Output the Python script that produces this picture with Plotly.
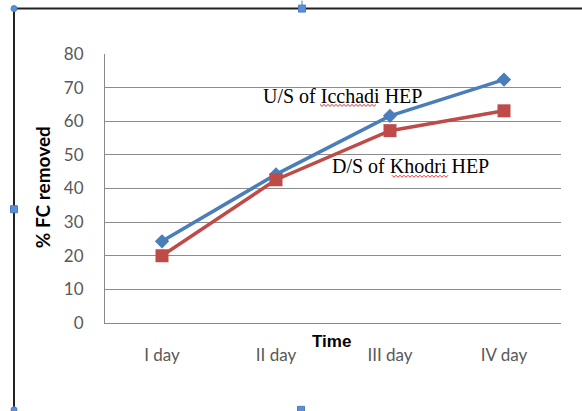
import plotly.graph_objects as go

categories = ["I day", "II day", "III day", "IV day"]
us_icchadi = [24.3, 44.2, 61.6, 72.4]
ds_khodri = [20.0, 42.6, 57.2, 63.1]
y_ticks = [0, 10, 20, 30, 40, 50, 60, 70, 80]

W, H = 582, 411
L, R, T, B = 105, 21, 53.5, 88
PW, PH = W - L - R, H - T - B


def px(x):
    return (x - L) / PW


def py(y):
    return (H - B - y) / PH


fig = go.Figure()
fig.add_trace(go.Scatter(
    x=categories, y=us_icchadi, mode="lines+markers", name="U/S of Icchadi HEP",
    line=dict(color="#4A7EBB", width=3.5),
    marker=dict(symbol="diamond", size=11, color="#4A7EBB"),
))
fig.add_trace(go.Scatter(
    x=categories, y=ds_khodri, mode="lines+markers", name="D/S of Khodri HEP",
    line=dict(color="#BE4B48", width=3.5),
    marker=dict(symbol="square", size=13, color="#BE4B48"),
))

tick_font = dict(family="Lato, Carlito, sans-serif", size=17, color="#595959")

fig.update_layout(
    width=W, height=H,
    margin=dict(l=L, r=R, t=T, b=B, pad=0),
    paper_bgcolor="white", plot_bgcolor="white",
    showlegend=False,
    xaxis=dict(
        type="category", range=[-0.5, 3.5], showgrid=False,
        showline=True, linecolor="#888888", linewidth=1,
        ticks="", tickfont=tick_font, ticklabelstandoff=17,
    ),
    yaxis=dict(
        range=[0, 80], tickvals=y_ticks, showgrid=True, gridcolor="#8C8C8C", gridwidth=1,
        showline=True, linecolor="#888888", linewidth=1, zeroline=False,
        ticks="", tickfont=tick_font, ticklabelstandoff=17,
    ),
)

# axis titles (placed as in the original)
fig.add_annotation(x=px(42), y=py(187), xref="paper", yref="paper", text="<b>% FC removed</b>",
                   textangle=-90, showarrow=False, xanchor="center", yanchor="middle",
                   font=dict(family="Lato, sans-serif", size=19, color="#000000"))
fig.add_annotation(x=px(331), y=py(342), xref="paper", yref="paper", text="<b>Time</b>",
                   showarrow=False, xanchor="center", yanchor="middle",
                   font=dict(family="Liberation Sans, Arial, sans-serif", size=17, color="#000000"))

# series labels
serif = dict(family="Liberation Serif, Times New Roman, serif", size=20, color="#000000")
fig.add_annotation(x=px(261), y=py(96), xref="paper", yref="paper", text="U/S of Icchadi HEP",
                   showarrow=False, xanchor="left", yanchor="middle", font=serif)
fig.add_annotation(x=px(330), y=py(166), xref="paper", yref="paper", text="D/S of Khodri HEP",
                   showarrow=False, xanchor="left", yanchor="middle", font=serif)


def wavy(x0, x1, y):
    pts = []
    x = x0
    up = True
    while x <= x1:
        pts.append((px(x), py(y - 1 if up else y + 1)))
        up = not up
        x += 2
    d = "M " + " L ".join(f"{a},{b}" for a, b in pts)
    return dict(type="path", path=d, xref="paper", yref="paper",
                line=dict(color="#E03030", width=1))


shapes = [wavy(320, 377, 105), wavy(392, 448, 176)]

# chart-object frame and selection handles
frame = "#222222"
shapes.append(dict(type="line", xref="paper", yref="paper", x0=px(14), x1=px(582), y0=py(8), y1=py(8),
                   line=dict(color=frame, width=2)))
shapes.append(dict(type="line", xref="paper", yref="paper", x0=px(14), x1=px(14), y0=py(8), y1=py(411),
                   line=dict(color=frame, width=2)))
shapes.append(dict(type="line", xref="paper", yref="paper", x0=px(302), x1=px(302), y0=py(0), y1=py(8),
                   line=dict(color="#4A7EBB", width=1)))
handle = dict(color="#4A7EBB", width=1)
for cx, cy in [(302, 8), (14, 209), (301, 410)]:
    shapes.append(dict(type="rect", xref="paper", yref="paper", x0=px(cx - 3.5), x1=px(cx + 3.5),
                       y0=py(cy - 3.5), y1=py(cy + 3.5), fillcolor="#5B8FDB", line=handle))
for cx, cy in [(14, 8), (14, 410)]:
    shapes.append(dict(type="circle", xref="paper", yref="paper", x0=px(cx - 3), x1=px(cx + 3),
                       y0=py(cy - 3), y1=py(cy + 3), fillcolor="#5B8FDB", line=handle))

fig.update_layout(shapes=shapes)
fig.write_html("out.html", config={"displayModeBar": False},
               post_script="document.body.style.margin='0';document.body.style.overflow='hidden';")
